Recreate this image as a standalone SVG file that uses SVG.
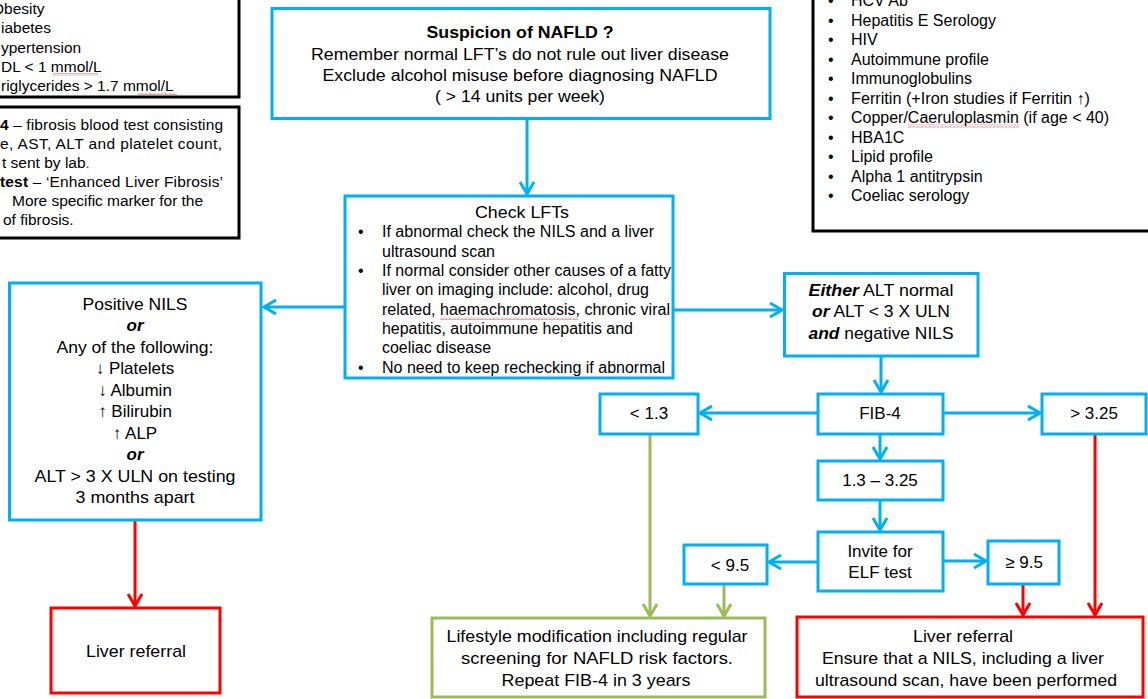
<svg xmlns="http://www.w3.org/2000/svg" width="1148" height="699" viewBox="0 0 1148 699">
<style>
text{font-family:"Liberation Sans",Arial,sans-serif;fill:#000}
.c{text-anchor:middle}
.f15{font-size:15.5px}
.f16{font-size:16px}
.f17{font-size:17px}
.bx{fill:#fff;stroke:#00B0F0;stroke-width:3}
.kx{fill:#fff;stroke:#000;stroke-width:3}
.gx{fill:#fff;stroke:#9BBB59;stroke-width:3}
.rx{fill:#fff;stroke:#FF0000;stroke-width:3}
.cb{fill:none;stroke:#00B0F0;stroke-width:3;marker-end:url(#ab)}
.cr{fill:none;stroke:#FF0000;stroke-width:3;marker-end:url(#ar)}
.cg{fill:none;stroke:#9BBB59;stroke-width:3;marker-end:url(#ag)}
.bi{font-weight:bold;font-style:italic}
.bd{font-weight:bold}
.sq{fill:url(#sq)}
</style>
<defs>
<marker id="ab" markerUnits="userSpaceOnUse" markerWidth="20" markerHeight="20" refX="14" refY="8" orient="auto" overflow="visible"><path d="M2,1 L14,8 L2,15" fill="none" stroke="#00B0F0" stroke-width="3"/></marker>
<marker id="ar" markerUnits="userSpaceOnUse" markerWidth="20" markerHeight="20" refX="14" refY="8" orient="auto" overflow="visible"><path d="M2,1 L14,8 L2,15" fill="none" stroke="#FF0000" stroke-width="3"/></marker>
<marker id="ag" markerUnits="userSpaceOnUse" markerWidth="20" markerHeight="20" refX="14" refY="8" orient="auto" overflow="visible"><path d="M2,1 L14,8 L2,15" fill="none" stroke="#9BBB59" stroke-width="3"/></marker>
<pattern id="sq" patternUnits="userSpaceOnUse" width="4" height="3"><path d="M0,2.5 L2,0.5 L4,2.5" fill="none" stroke="#E02020" stroke-width="0.8"/></pattern>
</defs>

<g id="risk-factors">
<rect class="kx" x="-10" y="-10" width="249" height="107"/>
<text class="f15" x="-8" y="13.5">Obesity</text>
<text class="f15" x="1" y="33">iabetes</text>
<text class="f15" x="1" y="52.5">ypertension</text>
<text class="f15" x="1" y="71.5">DL &lt; 1 mmol/L</text>
<text class="f15" x="1" y="91">riglycerides &gt; 1.7 mmol/L</text>
<rect class="sq" x="53" y="73" width="45" height="3"/>
<rect class="sq" x="138" y="92.5" width="39" height="3"/>
</g>

<g id="fib4-elf-note">
<rect class="kx" x="-10" y="107" width="249" height="131"/>
<text class="f15" x="0" y="129.5" textLength="223" lengthAdjust="spacing"><tspan class="bd">4</tspan> – fibrosis blood test consisting</text>
<text class="f15" x="0" y="148.5" textLength="222" lengthAdjust="spacing">e, AST, ALT and platelet count,</text>
<text class="f15" x="2" y="167.5">t sent by lab<tspan fill="#FF0000">.</tspan></text>
<text class="f15" x="0" y="187" textLength="223" lengthAdjust="spacing"><tspan class="bd">test</tspan> – ‘Enhanced Liver Fibrosis’</text>
<text class="f15" x="12" y="206" textLength="191" lengthAdjust="spacing">More specific marker for the</text>
<text class="f15" x="3" y="225">of fibrosis.</text>
</g>

<g id="blood-tests">
<rect class="kx" x="813" y="-10" width="345" height="241"/>
<g class="f16">
<text x="828" y="6">•</text><text x="851" y="6">HCV Ab</text>
<text x="828" y="25.5">•</text><text x="851" y="25.5">Hepatitis E Serology</text>
<text x="828" y="45">•</text><text x="851" y="45">HIV</text>
<text x="828" y="64.5">•</text><text x="851" y="64.5">Autoimmune profile</text>
<text x="828" y="84">•</text><text x="851" y="84">Immunoglobulins</text>
<text x="828" y="103.5">•</text><text x="851" y="103.5" textLength="239" lengthAdjust="spacingAndGlyphs">Ferritin (+Iron studies if Ferritin ↑)</text>
<text x="828" y="123">•</text><text x="851" y="123" textLength="258" lengthAdjust="spacingAndGlyphs">Copper/Caeruloplasmin  (if age &lt; 40)</text>
<text x="828" y="142.5">•</text><text x="851" y="142.5">HBA1C</text>
<text x="828" y="162">•</text><text x="851" y="162">Lipid profile</text>
<text x="828" y="181.5">•</text><text x="851" y="181.5">Alpha 1 antitrypsin</text>
<text x="828" y="201">•</text><text x="851" y="201">Coeliac serology</text>
</g>
<rect class="sq" x="908" y="124.5" width="111" height="3"/>
</g>

<g id="connectors">
<path class="cb" d="M527,118 V194"/>
<path class="cb" d="M345,307 H264"/>
<path class="cb" d="M673,310 H782"/>
<path class="cb" d="M881,356 V392"/>
<path class="cb" d="M818,413 H700"/>
<path class="cb" d="M943,413 H1040"/>
<path class="cb" d="M880,434 V459"/>
<path class="cb" d="M880,500 V530"/>
<path class="cb" d="M818,562 H769"/>
<path class="cb" d="M943,561 H986"/>
<path class="cg" d="M650,434 V616"/>
<path class="cg" d="M724,584 V616"/>
<path class="cr" d="M1023,584 V615"/>
<path class="cr" d="M1095,434 V615"/>
<path class="cr" d="M135,520 V606"/>
</g>

<g id="suspicion">
<rect class="bx" x="272" y="8.5" width="498" height="110"/>
<text class="f17 c bd" x="520" y="37.5" textLength="187" lengthAdjust="spacingAndGlyphs">Suspicion  of NAFLD  ?</text>
<text class="f17 c" x="520" y="59.5" textLength="418" lengthAdjust="spacingAndGlyphs">Remember  normal LFT’s  do not rule out liver disease</text>
<text class="f17 c" x="520" y="80.5" textLength="395" lengthAdjust="spacingAndGlyphs">Exclude  alcohol misuse before diagnosing NAFLD</text>
<text class="f17 c" x="520" y="101.5" textLength="170" lengthAdjust="spacingAndGlyphs">( &gt; 14 units per week)</text>
</g>

<g id="check-lfts">
<rect class="bx" x="345" y="196" width="328" height="182"/>
<text class="f17 c" x="522" y="217.5" textLength="94" lengthAdjust="spacingAndGlyphs">Check LFTs</text>
<g class="f16">
<text x="358" y="237">•</text><text x="382" y="237" textLength="272" lengthAdjust="spacingAndGlyphs">If abnormal check the NILS and a liver</text>
<text x="382" y="256.5" textLength="113" lengthAdjust="spacingAndGlyphs">ultrasound scan</text>
<text x="358" y="276">•</text><text x="382" y="276" textLength="289" lengthAdjust="spacingAndGlyphs">If normal consider other causes of a fatty</text>
<text x="382" y="295" textLength="267" lengthAdjust="spacingAndGlyphs">liver on imaging include: alcohol, drug</text>
<text x="382" y="314.5" textLength="288" lengthAdjust="spacingAndGlyphs">related, haemachromatosis, chronic viral</text>
<text x="382" y="333.5" textLength="251" lengthAdjust="spacingAndGlyphs">hepatitis, autoimmune hepatitis and</text>
<text x="382" y="353" textLength="109" lengthAdjust="spacingAndGlyphs">coeliac disease</text>
<text x="358" y="372.5">•</text><text x="382" y="372.5" textLength="283" lengthAdjust="spacingAndGlyphs">No need to keep rechecking if abnormal</text>
</g>
<rect class="sq" x="440" y="317" width="138" height="3"/>
</g>

<g id="positive-nils">
<rect class="bx" x="9.5" y="283" width="251.5" height="237"/>
<g class="f17 c">
<text x="135" y="309.5" textLength="105" lengthAdjust="spacingAndGlyphs">Positive  NILS</text>
<text x="135" y="331" class="bi">or</text>
<text x="135" y="352.5" textLength="157" lengthAdjust="spacingAndGlyphs">Any of the  following:</text>
<text x="135" y="374">↓ Platelets</text>
<text x="135" y="395.5">↓ Albumin</text>
<text x="135" y="417">↑ Bilirubin</text>
<text x="135" y="438.5">↑ ALP</text>
<text x="135" y="460" class="bi">or</text>
<text x="135" y="481.5" textLength="201" lengthAdjust="spacingAndGlyphs">ALT &gt; 3 X ULN  on testing</text>
<text x="135" y="503" textLength="119" lengthAdjust="spacingAndGlyphs">3 months  apart</text>
</g>
</g>

<g id="liver-referral-left">
<rect class="rx" x="51" y="608" width="169" height="85"/>
<text class="f17 c" x="136" y="656.5" textLength="100" lengthAdjust="spacingAndGlyphs">Liver referral</text>
</g>

<g id="either">
<rect class="bx" x="784.5" y="273.5" width="193.5" height="82.5"/>
<g class="f17 c">
<text x="881" y="296" textLength="145" lengthAdjust="spacingAndGlyphs"><tspan class="bi">Either</tspan> ALT normal</text>
<text x="881" y="317" textLength="138" lengthAdjust="spacingAndGlyphs"><tspan class="bi">or</tspan> ALT &lt; 3 X ULN</text>
<text x="881" y="338.5" textLength="145" lengthAdjust="spacingAndGlyphs"><tspan class="bi">and</tspan> negative  NILS</text>
</g>
</g>

<g id="fib4">
<rect class="bx" x="818" y="394" width="125" height="40"/>
<text class="f17 c" x="880" y="419">FIB-4</text>
</g>
<g id="lt-1-3">
<rect class="bx" x="600" y="394" width="98" height="40"/>
<text class="f17 c" x="649" y="419">&lt; 1.3</text>
</g>
<g id="gt-3-25">
<rect class="bx" x="1042" y="394" width="104" height="40"/>
<text class="f17 c" x="1094" y="419">&gt; 3.25</text>
</g>
<g id="mid-range">
<rect class="bx" x="818" y="461" width="125" height="39"/>
<text class="f17 c" x="880" y="486">1.3 – 3.25</text>
</g>
<g id="elf">
<rect class="bx" x="818" y="532" width="125" height="59"/>
<text class="f17 c" x="880" y="557">Invite for</text>
<text class="f17 c" x="880" y="578">ELF test</text>
</g>
<g id="lt-9-5">
<rect class="bx" x="684" y="545" width="83" height="39"/>
<text class="f17 c" x="730" y="570.5">&lt; 9.5</text>
</g>
<g id="ge-9-5">
<rect class="bx" x="988" y="541" width="71" height="43"/>
<text class="f17 c" x="1024" y="567.5">≥ 9.5</text>
</g>

<g id="lifestyle">
<rect class="gx" x="432" y="618" width="333" height="79"/>
<g class="f17 c">
<text x="597" y="641.5" textLength="301" lengthAdjust="spacingAndGlyphs">Lifestyle modification including regular</text>
<text x="597" y="663.5" textLength="272" lengthAdjust="spacingAndGlyphs">screening for NAFLD  risk factors.</text>
<text x="596" y="685.5" textLength="189" lengthAdjust="spacingAndGlyphs">Repeat  FIB-4 in 3 years</text>
</g>
</g>

<g id="liver-referral-right">
<rect class="rx" x="797" y="617" width="346" height="80"/>
<g class="f17 c">
<text x="963" y="642" textLength="100" lengthAdjust="spacingAndGlyphs">Liver referral</text>
<text x="963" y="664" textLength="282" lengthAdjust="spacingAndGlyphs">Ensure that a NILS, including a liver</text>
<text x="966" y="686" textLength="302" lengthAdjust="spacingAndGlyphs">ultrasound scan, have been performed</text>
</g>
</g>
</svg>
